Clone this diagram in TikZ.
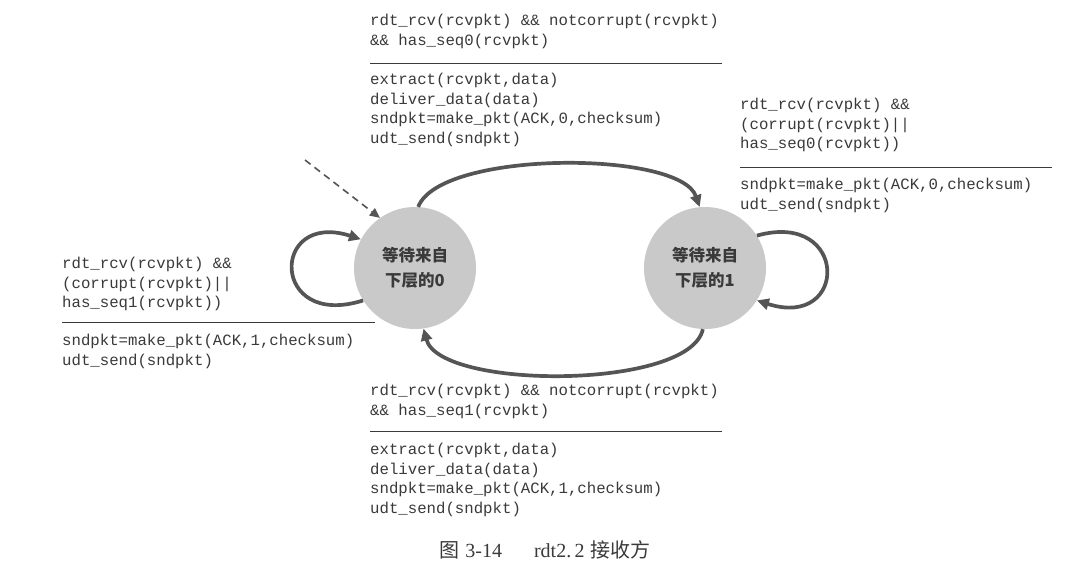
\documentclass[tikz,border=0pt]{standalone}
\usepackage{fontspec}
\setmainfont{Liberation Serif}
\newfontfamily\codefont{Liberation Mono}
\newfontfamily\cjkfont{Noto Sans CJK SC}
\usetikzlibrary{arrows.meta}
\definecolor{statefill}{HTML}{C9C9C9}
\definecolor{txt}{HTML}{3A3A3A}
\definecolor{arr}{HTML}{555555}
\begin{document}
\begin{tikzpicture}[x=1pt,y=-1pt,
  state/.style={circle, fill=statefill, minimum size=122pt, inner sep=0pt,
    font=\cjkfont\bfseries\fontsize{16.5}{25}\selectfont, text=txt, align=center},
  code/.style={inner sep=0pt, anchor=north west, align=left,
    font=\codefont\fontsize{15.7}{19.7}\selectfont, text=txt},
  trans/.style={draw=arr, line width=3.7pt, -{Triangle[length=12pt,width=11pt]}},
  initarrow/.style={draw=arr, line width=1.6pt, dash pattern=on 7pt off 5pt, -{Triangle[length=10pt,width=9pt]}},
  guardrule/.style={draw=txt, line width=1pt}]
\useasboundingbox (0,0) rectangle (1092,574);
\fill[white] (0,0) rectangle (1092,574);

\node[state] (L) at (415,268) {等待来自\\下层的0};
\node[state] (R) at (705,268) {等待来自\\下层的1};

\coordinate (start) at (305,160);
\draw[initarrow] (start) -- (L.125);

% top transition
\node[code] (tc) at (370,14) {rdt\_rcv(rcvpkt) \&\& notcorrupt(rcvpkt)\\\&\& has\_seq0(rcvpkt)};
\draw[guardrule] (370,63) -- (722,63);
\node[code] (ta) at (370,73) {extract(rcvpkt,data)\\deliver\_data(data)\\sndpkt=make\_pkt(ACK,0,checksum)\\udt\_send(sndpkt)};

% right loop
\node[code] (rc) at (740,98) {rdt\_rcv(rcvpkt) \&\&\\(corrupt(rcvpkt)||\\has\_seq0(rcvpkt))};
\draw[guardrule] (740,167) -- (1052,167);
\node[code] (ra) at (740,178) {sndpkt=make\_pkt(ACK,0,checksum)\\udt\_send(sndpkt)};

% left loop
\node[code] (lc) at (62,257) {rdt\_rcv(rcvpkt) \&\&\\(corrupt(rcvpkt)||\\has\_seq1(rcvpkt))};
\draw[guardrule] (62,322) -- (375,322);
\node[code] (la) at (62,334) {sndpkt=make\_pkt(ACK,1,checksum)\\udt\_send(sndpkt)};

% bottom transition
\node[code] (bc) at (370,384) {rdt\_rcv(rcvpkt) \&\& notcorrupt(rcvpkt)\\\&\& has\_seq1(rcvpkt)};
\draw[guardrule] (370,431) -- (722,431);
\node[code] (ba) at (370,443) {extract(rcvpkt,data)\\deliver\_data(data)\\sndpkt=make\_pkt(ACK,1,checksum)\\udt\_send(sndpkt)};

% transitions
\draw[trans] (L.87) .. controls (440,150) and (680,150) .. (R.95);
\draw[trans] (R.-92) .. controls (690,390) and (440,390) .. (L.-82);
\draw[trans] (L.212) .. controls (270,330) and (270,210) .. (L.152);
\draw[trans] (R.32) .. controls (849,210) and (849,330) .. (R.-32);

\node[font=\fontsize{20}{24}\selectfont, text=txt] (cap) at (545,550)
  {{\cjkfont 图}\;3-14\hspace{1.6em}rdt2.\,2\;{\cjkfont 接收方}};
\end{tikzpicture}
\end{document}
